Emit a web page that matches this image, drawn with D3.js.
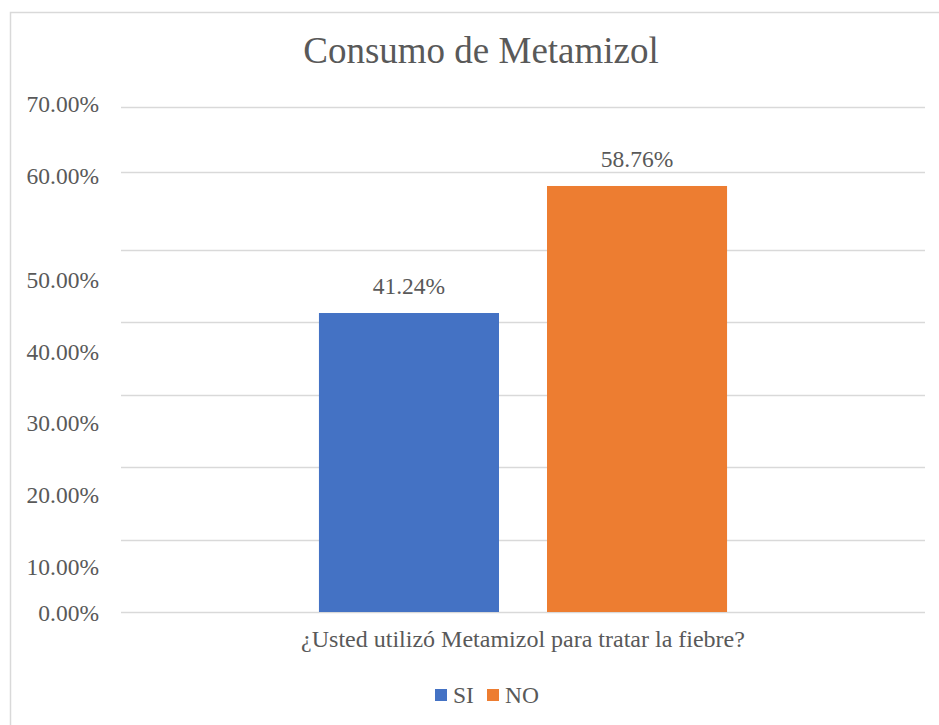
<!DOCTYPE html>
<html><head><meta charset="utf-8">
<script src="https://cdn.jsdelivr.net/npm/d3@7"></script>
<style>html,body{margin:0;padding:0;background:#fff;} svg{display:block;}</style>
</head><body>
<svg id="c" width="939" height="725"></svg>
<script>
const title = "Consumo de Metamizol";
const category = "¿Usted utilizó Metamizol para tratar la fiebre?";
const series = ["SI", "NO"];
const values = [0.4124, 0.5876];
const colors = ["#4472C4", "#ED7D31"];
const gridValues = [0, 0.1, 0.2, 0.3, 0.4, 0.5, 0.6075, 0.696];
const tickLabels = ["0.00%", "10.00%", "20.00%", "30.00%", "40.00%", "50.00%", "60.00%", "70.00%"];
const tickLabelAt = [0, 0.063, 0.162, 0.261, 0.359, 0.458, 0.602, 0.701];

const svg = d3.select("#c");
const font = "Liberation Serif";
const txt = "#595959";

svg.append("rect").attr("x", 10.5).attr("y", 12.5).attr("width", 960).attr("height", 760)
  .attr("fill", "#fff").attr("stroke", "#d9d9d9").attr("stroke-width", 1.5);

const y = d3.scaleLinear().domain([0, 0.7]).range([612, 104.5]);
const x0 = d3.scaleBand().domain([category]).range([121, 925]);
const x1 = d3.scaleBand().domain(series).range([x0(category), x0(category) + x0.bandwidth()])
  .paddingInner(0.2105).paddingOuter(0.868);

// gridlines
svg.append("g").selectAll("line").data(gridValues).join("line")
  .attr("x1", 121).attr("x2", 925)
  .attr("y1", d => Math.round(y(d)) + 0.5).attr("y2", d => Math.round(y(d)) + 0.5)
  .attr("stroke", "#d9d9d9").attr("stroke-width", 1.5);

// y axis labels
const yAxis = d3.axisLeft(y).tickValues(tickLabelAt).tickFormat((d, i) => tickLabels[i]).tickSize(0).tickPadding(0);
const gy = svg.append("g").attr("transform", "translate(99,0)").call(yAxis);
gy.select(".domain").remove();
gy.attr("font-family", font).attr("font-size", 23.5);
gy.selectAll("text").attr("font-family", font).attr("font-size", 23.5).attr("fill", txt).attr("dy", "0.34em");

// bars
svg.append("g").selectAll("rect").data(series).join("rect")
  .attr("x", d => x1(d)).attr("width", x1.bandwidth())
  .attr("y", (d, i) => y(values[i])).attr("height", (d, i) => y(0) - y(values[i]))
  .attr("fill", (d, i) => colors[i]);

// data labels
svg.append("g").selectAll("text").data(series).join("text")
  .attr("x", d => x1(d) + x1.bandwidth() / 2).attr("y", (d, i) => y(values[i]) - 19)
  .attr("text-anchor", "middle").attr("font-family", font).attr("font-size", 23.5).attr("fill", txt)
  .text((d, i) => (values[i] * 100).toFixed(2) + "%");

// x axis category label
const xAxis = d3.axisBottom(x0).tickSize(0).tickPadding(0);
const gx = svg.append("g").attr("transform", "translate(0,612)").call(xAxis);
gx.select(".domain").remove();
gx.attr("font-family", font).attr("font-size", 24);
gx.selectAll("text").attr("font-family", font).attr("font-size", 24).attr("fill", txt).attr("dy", null).attr("y", 35);

// title
svg.append("text").attr("x", 481).attr("y", 63).attr("text-anchor", "middle")
  .attr("font-family", font).attr("font-size", 37).attr("fill", txt).text(title);

// legend
const legX = [435, 487];
const lg = svg.append("g").selectAll("g").data(series).join("g")
  .attr("transform", (d, i) => `translate(${legX[i]},689)`);
lg.append("rect").attr("width", 12).attr("height", 12).attr("fill", (d, i) => colors[i]);
lg.append("text").attr("x", 18).attr("y", 14).attr("font-family", font).attr("font-size", 23.5)
  .attr("fill", txt).text(d => d);
</script>
</body></html>
